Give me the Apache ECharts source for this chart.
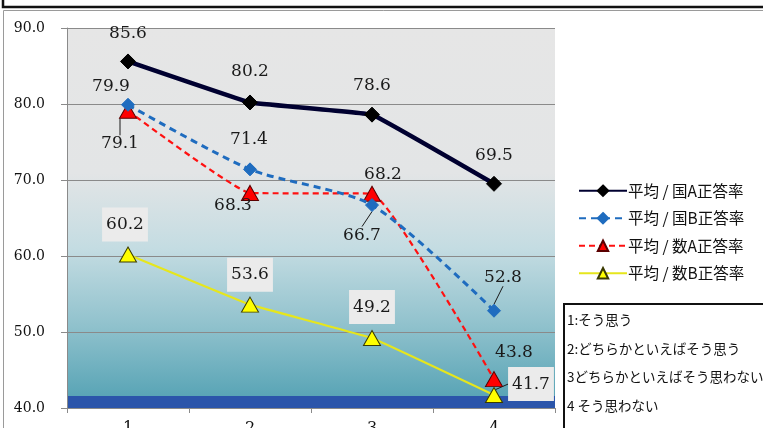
<!DOCTYPE html>
<html>
<head>
<meta charset="utf-8">
<script src="https://cdn.jsdelivr.net/npm/echarts@6/dist/echarts.min.js"></script>
<style>
  html, body { margin: 0; padding: 0; background: #ffffff; }
  #chart { width: 763px; height: 428px; }
</style>
</head>
<body>
<div id="chart"></div>
<script>
// Categories and averages for each answer group
const categories = ['1', '2', '3', '4'];
const seriesNames = ['平均 / 国A正答率', '平均 / 国B正答率', '平均 / 数A正答率', '平均 / 数B正答率'];
const kokugoA = [85.6, 80.2, 78.6, 69.5];
const kokugoB = [79.9, 71.4, 66.7, 52.8];
const sugakuA = [79.1, 68.3, 68.2, 43.8];
const sugakuB = [60.2, 53.6, 49.2, 41.7];
const yTicks = [40, 50, 60, 70, 80, 90];
const noteLines = ['1:そう思う', '2:どちらかといえばそう思う', '3どちらかといえばそう思わない', '4 そう思わない'];

const SERIF = '"DejaVu Serif", "Noto Sans CJK JP", serif';
const JP = '"Noto Sans CJK JP", "DejaVu Serif", sans-serif';

// label placement relative to each marker centre, plus which ones get a leader line
const labelOffsets = [
  [[0, -28], [0, -31], [0, -29], [0, -28]],
  [[-17, -18], [-1, -30], [-10, 30], [9, -33]],
  [[-8, 33], [-17, 13], [11, -19], [20, -27]],
  [[-3, -30], [0, -30], [0, -31], [37, -11]]
];
const leaders = [
  [false, false, false, false],
  [false, false, true, true],
  [true, false, false, false],
  [false, false, false, true]
];

function layoutFor(si) {
  return function (p) {
    const off = labelOffsets[si][p.dataIndex];
    return {
      x: p.rect.x + p.rect.width / 2 + off[0],
      y: p.rect.y + p.rect.height / 2 + off[1],
      align: 'center',
      verticalAlign: 'middle'
    };
  };
}

function makeData(values, si) {
  return values.map(function (v, i) {
    return { value: v, labelLine: { show: leaders[si][i] } };
  });
}

const baseLabel = {
  show: true,
  position: 'inside',
  fontFamily: SERIF,
  fontSize: 17,
  color: '#1a1a1a',
  formatter: function (p) { return p.value.toFixed(1); }
};

const styles = [
  { color: '#000030', width: 4.5, type: 'solid', symbol: 'diamond', size: 15, border: '#000000', smooth: 0.05 },
  { color: '#1f6cbf', width: 3, type: [7, 5], symbol: 'diamond', size: 13, border: '#1f6cbf', smooth: 0.25 },
  { color: '#ff1010', width: 2.2, type: [6, 4], symbol: 'triangle', size: 17, border: '#5a0000', smooth: 0.1 },
  { color: '#e6e61c', width: 2.2, type: 'solid', symbol: 'triangle', size: 17, border: '#3a3a00', smooth: 0.05 }
];
const itemFill = ['#000000', '#1f6cbf', '#ff0000', '#ffff00'];
const valueSets = [kokugoA, kokugoB, sugakuA, sugakuB];

const series = valueSets.map(function (vals, si) {
  const st = styles[si];
  const label = Object.assign({}, baseLabel);
  if (si === 3) {
    label.backgroundColor = '#ebebeb';
    label.padding = [9, 4, 8, 4];
  }
  return {
    name: seriesNames[si],
    type: 'line',
    data: makeData(vals, si),
    smooth: st.smooth,
    symbol: st.symbol,
    symbolSize: st.symbol === 'diamond' ? st.size : [st.size, st.size - 2],
    lineStyle: { color: st.color, width: st.width, type: st.type },
    itemStyle: { color: itemFill[si], borderColor: st.border, borderWidth: 1 },
    label: label,
    labelLine: { show: false, lineStyle: { color: '#1a1a1a', width: 1 } },
    labelLayout: layoutFor(si),
    z: 10 - si
  };
});

const chart = echarts.init(document.getElementById('chart'), null, { renderer: 'canvas' });

const noteGraphics = noteLines.map(function (t, i) {
  return {
    type: 'text',
    left: 567,
    top: 313 + i * 28.7,
    style: { text: t, font: '13.5px ' + JP, fill: '#111111' },
    z: 20
  };
});

chart.setOption({
  animation: false,
  backgroundColor: '#ffffff',
  grid: {
    left: 67, top: 28, width: 488, height: 380,
    outerBoundsMode: 'none',
    containLabel: false,
    show: true,
    borderWidth: 0,
    backgroundColor: new echarts.graphic.LinearGradient(0, 0, 0, 1, [
      { offset: 0, color: '#e6e6e6' },
      { offset: 0.38, color: '#e3e5e6' },
      { offset: 0.58, color: '#c4dce2' },
      { offset: 0.78, color: '#91c2cd' },
      { offset: 0.968, color: '#5aa5b6' },
      { offset: 0.969, color: '#2b55aa' },
      { offset: 1, color: '#2b55aa' }
    ])
  },
  legend: {
    orient: 'vertical',
    left: 573,
    top: 178,
    itemWidth: 48,
    itemHeight: 13,
    itemGap: 12,
    textStyle: { fontFamily: JP, fontSize: 15.5, color: '#111111', padding: [0, 0, 0, -4] },
    data: seriesNames
  },
  xAxis: {
    type: 'category',
    data: categories,
    boundaryGap: true,
    axisLine: { show: true, lineStyle: { color: '#8a8a8a', width: 1 } },
    axisTick: { show: true, length: 5, lineStyle: { color: '#8a8a8a' } },
    axisLabel: { margin: 13, fontFamily: SERIF, fontSize: 16, color: '#111111' }
  },
  yAxis: {
    type: 'value',
    min: yTicks[0],
    max: yTicks[yTicks.length - 1],
    interval: 10,
    axisLine: { show: true, lineStyle: { color: '#8a8a8a', width: 1 } },
    axisTick: { show: true, length: 6, lineStyle: { color: '#8a8a8a' } },
    axisLabel: {
      margin: 22,
      fontFamily: SERIF,
      fontSize: 14,
      color: '#111111',
      formatter: function (v) { return v.toFixed(1); }
    },
    splitLine: { show: true, lineStyle: { color: '#8a8a8a', width: 1 } }
  },
  series: series,
  graphic: [
    // outer frame of the chart object
    { type: 'rect', shape: { x: 3.5, y: 10.5, width: 800, height: 500 }, style: { fill: null, stroke: '#9a9a9a', lineWidth: 1 }, z: -10, silent: true },
    // heavy rule across the top
    { type: 'polyline', shape: { points: [[3, 0], [3, 7], [770, 7]] }, style: { fill: null, stroke: '#111111', lineWidth: 2.5 }, z: 5, silent: true },
    // note box with the answer choices
    { type: 'rect', shape: { x: 564, y: 304, width: 220, height: 140 }, style: { fill: '#ffffff', stroke: '#111111', lineWidth: 2 }, z: 19, silent: true }
  ].concat(noteGraphics)
});
</script>
</body>
</html>
